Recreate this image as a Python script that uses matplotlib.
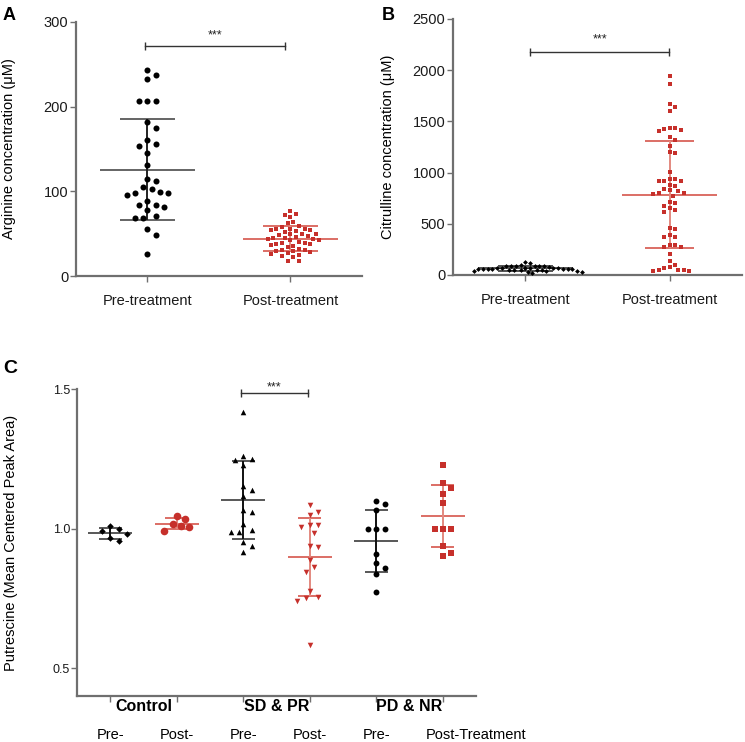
import matplotlib
matplotlib.use('Agg')
import matplotlib.pyplot as plt
import matplotlib.transforms as mtransforms
import numpy as np

plt.rcParams['font.family'] = 'Liberation Sans'

# values
arg_pre = [243, 237, 233, 207, 206, 206, 182, 175, 161, 156, 153, 145, 131, 114, 112, 103,
           105, 97.5, 96, 97.5, 99.5, 88, 84, 82, 84, 78, 71, 69, 69, 55, 48, 26]
arg_post = [77, 73, 72, 70, 64, 63, 59, 58, 56, 55, 55, 54, 54, 53, 52, 50, 49, 49, 48, 47,
            46, 45, 45, 44, 44, 43, 42, 40, 39, 39, 38, 38, 37, 36, 34, 32, 31, 31, 30, 29,
            28, 27, 26, 25, 24, 22, 18, 18]
cit_pre = [122, 118, 95, 92, 90, 88, 86, 85, 84, 82, 70, 68, 67, 66, 65, 64, 63, 62, 62, 61,
           60, 59, 58, 50, 48, 46, 45, 44, 42, 40, 38, 30, 27, 24]
cit_post = [1940, 1868, 1673, 1641, 1602, 1438, 1432, 1425, 1419, 1403, 1344, 1315, 1256, 1201,
            1188, 1009, 937, 935, 921, 918, 915, 882, 869, 840, 826, 822, 801, 798, 794, 775,
            716, 703, 677, 657, 638, 618, 459, 450, 394, 371, 368, 293, 290, 277, 270, 208,
            134, 101, 75, 70, 49, 46, 40, 42, 45]

ctrl_pre = [1.008, 0.999, 0.993, 0.981, 0.965, 0.957]
ctrl_post = [1.044, 1.035, 1.008, 1.017, 0.993, 1.005]
sdpr_pre = [1.417, 1.250, 1.259, 1.244, 1.226, 1.154, 1.139, 1.115, 1.068, 1.061, 1.017,
            0.995, 0.989, 0.989, 0.951, 0.939, 0.915]
sdpr_post = [1.085, 1.061, 1.049, 1.011, 1.005, 1.011, 0.983, 0.939, 0.933, 0.888, 0.861,
             0.843, 0.775, 0.750, 0.742, 0.756, 0.583]
pdnr_pre = [1.100, 1.088, 1.065, 1.000, 1.000, 1.000, 0.910, 0.876, 0.857, 0.838, 0.771]
pdnr_post = [1.229, 1.164, 1.145, 1.124, 1.090, 1.000, 1.000, 1.000, 0.937, 0.914, 0.902]

ab_labels = ['Pre-treatment', 'Post-treatment']
c_groups = ['Control', 'SD & PR', 'PD & NR']
c_sub = ['Pre-', 'Post-', 'Pre-', 'Post-', 'Pre-', 'Post-Treatment']

BLACK = '#000000'
RED = '#c6302b'
RED_LINE = '#d2473c'
RED_LIGHT = '#e3897f'
SPINE = '#6f6f6f'


def swarm(ax, x0, vals, d):
    # simple beeswarm: shift points sideways (in pixels) until they do not overlap
    vals = np.asarray(vals, dtype=float)
    ys = ax.transData.transform(np.column_stack([np.full(len(vals), x0), vals]))[:, 1]
    ppu = ax.transData.transform((x0 + 1, 0))[0] - ax.transData.transform((x0, 0))[0]
    placed = []
    offs = np.zeros(len(vals))
    for i in np.argsort(-ys):
        k = 0
        found = None
        while found is None:
            cands = [0.0] if k == 0 else [k * d / 2, -k * d / 2]
            for c in cands:
                if all((c - px) ** 2 + (ys[i] - py) ** 2 >= (0.97 * d) ** 2 for px, py in placed):
                    found = c
                    break
            k += 1
        offs[i] = found
        placed.append((found, ys[i]))
    return x0 + offs / ppu


def summary(ax, x, vals, mcol, vcol, mw=0.33, cw=0.19, lw=1.1):
    m = np.mean(vals)
    sd = np.std(vals, ddof=1)
    ax.hlines(m, x - mw, x + mw, color=mcol, lw=lw, zorder=1)
    ax.hlines([m - sd, m + sd], x - cw, x + cw, color=mcol, lw=lw, zorder=1)
    ax.vlines(x, m - sd, m + sd, color=vcol, lw=lw + 0.3, zorder=1)


def style(ax, fs):
    for s in ['top', 'right']:
        ax.spines[s].set_visible(False)
    for s in ['left', 'bottom']:
        ax.spines[s].set_color(SPINE)
        ax.spines[s].set_linewidth(1.6)
    ax.tick_params(colors=SPINE, labelcolor='#1a1a1a', width=1, length=4, labelsize=fs)


def sig(ax, x1, x2, y, h, ytxt):
    ax.plot([x1, x2], [y, y], color='#333333', lw=1, clip_on=False)
    ax.vlines([x1, x2], y - h, y + h, color='#333333', lw=1, clip_on=False)
    ax.text((x1 + x2) / 2, ytxt, '***', ha='center', va='center', fontsize=9, color='#222222')


fig = plt.figure(figsize=(7.45, 7.42), dpi=100)
axA = fig.add_axes([0.1020, 0.6280, 0.3839, 0.3427])
axB = fig.add_axes([0.6081, 0.6294, 0.3879, 0.3450])
axC = fig.add_axes([0.1034, 0.0620, 0.5356, 0.4137])

# ---- panel A
axA.set_xlim(-0.5, 1.5)
axA.set_ylim(0, 300)
style(axA, 10.5)
summary(axA, 0, arg_pre, '#3a3a3a', '#222222')
summary(axA, 1, arg_post, RED_LINE, RED_LIGHT)
axA.scatter(swarm(axA, 0, arg_pre, 8.3), arg_pre, s=19, marker='o', color=BLACK, lw=0, zorder=3)
axA.scatter(swarm(axA, 1, arg_post, 5.7), arg_post, s=9, marker='s', color=RED, lw=0, zorder=3)
axA.set_xticks([0, 1])
axA.set_xticklabels(ab_labels, fontsize=10.5)
axA.tick_params(axis='x', pad=9)
axA.set_yticks([0, 100, 200, 300])
axA.tick_params(axis='y', pad=1.5)
axA.set_ylabel('Arginine concentration (\u03bcM)', fontsize=10.5)
axA.yaxis.set_label_coords(-0.21, 0.5)
sig(axA, -0.02, 0.96, 271.7, 4.7, 284)

# ---- panel B
axB.set_xlim(-0.5, 1.5)
axB.set_ylim(0, 2500)
style(axB, 10.5)
summary(axB, 0, cit_pre, '#222222', '#222222')
summary(axB, 1, cit_post, RED_LINE, RED_LIGHT, cw=0.17)
axB.scatter(swarm(axB, 0, cit_pre, 4.7), cit_pre, s=6, marker='D', color=BLACK, lw=0, zorder=3)
axB.scatter(swarm(axB, 1, cit_post, 5.6), cit_post, s=10, marker='s', color=RED, lw=0, zorder=3)
axB.set_xticks([0, 1])
axB.set_xticklabels(ab_labels, fontsize=10.5)
axB.tick_params(axis='x', pad=9)
axB.set_yticks([0, 500, 1000, 1500, 2000, 2500])
axB.tick_params(axis='y', pad=1.5)
axB.set_ylabel('Citrulline concentration (\u03bcM)', fontsize=10.5)
axB.yaxis.set_label_coords(-0.20, 0.5)
sig(axB, 0.035, 0.993, 2175, 39, 2305)

# ---- panel C
axC.set_xlim(0.5, 6.5)
axC.set_ylim(0.4, 1.5)
style(axC, 9)
c_series = [ctrl_pre, ctrl_post, sdpr_pre, sdpr_post, pdnr_pre, pdnr_post]
c_markers = ['D', 'o', '^', 'v', 'o', 's']
c_sizes = [11, 30, 16, 16, 18, 16]
for i, vals in enumerate(c_series):
    pos = i + 1
    red = i % 2 == 1
    if red:
        summary(axC, pos, vals, RED_LINE, RED_LIGHT, cw=0.17)
    else:
        summary(axC, pos, vals, '#2a2a2a', '#111111', cw=0.17)
    axC.scatter(swarm(axC, pos, vals, 8.3), vals, s=c_sizes[i], marker=c_markers[i],
                color=RED if red else BLACK, lw=0, zorder=3)
axC.set_xticks(range(1, 7))
axC.set_xticklabels([])
axC.set_yticks([0.5, 1.0, 1.5])
axC.tick_params(axis='y', pad=1)
axC.set_ylabel('Putrescine (Mean Centered Peak Area)', fontsize=10.5)
axC.yaxis.set_label_coords(-0.148, 0.5)
sig(axC, 2.965, 3.97, 1.485, 0.0143, 1.506)

trans = mtransforms.blended_transform_factory(axC.transData, axC.transAxes)
for g, name in enumerate(c_groups):
    axC.text(2 * g + 1.5, -0.035, name, transform=trans, ha='center', va='center',
             fontsize=11.5, fontweight='bold', family=['Liberation Sans Narrow', 'Liberation Sans'])
for i, lab in enumerate(c_sub):
    if lab.startswith('Pre'):
        axC.text(i + 1, -0.127, lab, transform=trans, ha='center', va='center', fontsize=10.5)
    else:
        axC.text(i + 1 - 0.25, -0.127, lab, transform=trans, ha='left', va='center', fontsize=10.5)

# panel letters
fig.text(0.004, 0.990, 'A', fontsize=13, fontweight='bold', va='top')
fig.text(0.512, 0.990, 'B', fontsize=13, fontweight='bold', va='top')
fig.text(0.004, 0.515, 'C', fontsize=14, fontweight='bold', va='top')

fig.savefig('out.png', dpi=100)
